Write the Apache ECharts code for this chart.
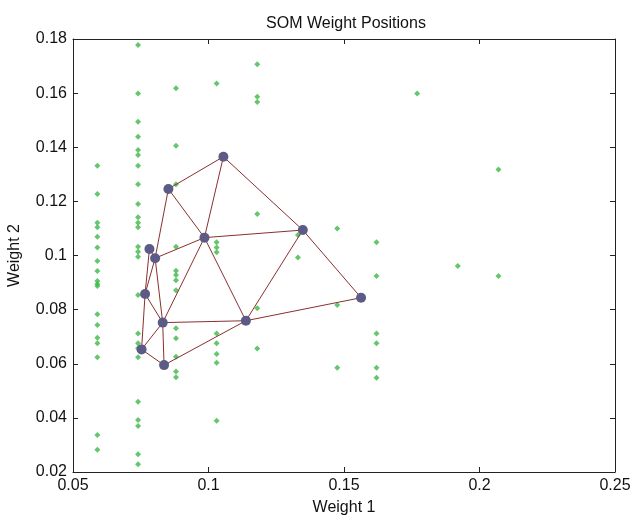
<!DOCTYPE html>
<html>
<head>
<meta charset="utf-8">
<script src="https://cdn.jsdelivr.net/npm/echarts@6/dist/echarts.min.js"></script>
<style>
  html, body { margin: 0; padding: 0; background: #fff; }
  #chart { width: 632px; height: 518px; }
</style>
</head>
<body>
<div id="chart"></div>
<script>
// input data, grouped by column of Weight 1
const colX = [0.059, 0.074, 0.088, 0.103, 0.118, 0.133, 0.1475, 0.162, 0.177, 0.192, 0.207];
const colY = [
  [0.1332, 0.1227, 0.1121, 0.1104, 0.1069, 0.1030, 0.0980, 0.0943, 0.0906, 0.0895, 0.0887, 0.0783, 0.0743, 0.0696, 0.0676, 0.0624, 0.0337, 0.0282],
  [0.1778, 0.1599, 0.1494, 0.1439, 0.1390, 0.1371, 0.1332, 0.1263, 0.1190, 0.1141, 0.1121, 0.1104, 0.1032, 0.1014, 0.0995, 0.0854, 0.0712, 0.0676, 0.0657, 0.0624, 0.0460, 0.0392, 0.0370, 0.0266, 0.0229],
  [0.1618, 0.1406, 0.1263, 0.1032, 0.0944, 0.0928, 0.0909, 0.0872, 0.0731, 0.0694, 0.0626, 0.0571, 0.0550],
  [0.1636, 0.1049, 0.1030, 0.1012, 0.0712, 0.0676, 0.0636, 0.0604, 0.0389],
  [0.1707, 0.1587, 0.1567, 0.1153, 0.0805, 0.0656],
  [0.1076, 0.0993],
  [0.1100, 0.0817, 0.0585],
  [0.1049, 0.0924, 0.0712, 0.0676, 0.0585, 0.0548],
  [0.1599],
  [0.0961],
  [0.1318, 0.0924]
];

// SOM neurons (hextop 3x4), in neuron index order
const gridCols = 3;
const gridRows = 4;
const neuronX = [0.1563, 0.1348, 0.1055, 0.1138, 0.0985, 0.0852, 0.0836, 0.0831, 0.0803, 0.0753, 0.0766, 0.0782];
const neuronY = [0.0844, 0.1094, 0.1365, 0.0759, 0.1066, 0.1246, 0.0595, 0.0752, 0.0990, 0.0653, 0.0858, 0.1024];

const xTicks = [0.05, 0.1, 0.15, 0.2, 0.25];
const yTicks = [0.02, 0.04, 0.06, 0.08, 0.1, 0.12, 0.14, 0.16, 0.18];

const inputPoints = [];
colX.forEach((x, i) => colY[i].forEach(y => inputPoints.push([x, y])));

// neighbours in the hexagonal topology
const hexPos = [];
for (let r = 0; r < gridRows; r++) {
  for (let c = 0; c < gridCols; c++) {
    hexPos.push([c + (r % 2) * 0.5, r * Math.sqrt(3) / 2]);
  }
}
const links = [];
for (let i = 0; i < hexPos.length; i++) {
  for (let j = i + 1; j < hexPos.length; j++) {
    const d = Math.hypot(hexPos[i][0] - hexPos[j][0], hexPos[i][1] - hexPos[j][1]);
    if (d < 1.001) links.push({ source: i, target: j });
  }
}

const font = 'Liberation Sans, Arial, sans-serif';
const axisColor = '#222';

const chart = echarts.init(document.getElementById('chart'));

const option = {
  animation: false,
  backgroundColor: '#fff',
  title: {
    text: 'SOM Weight Positions',
    left: 341,
    top: 11,
    textAlign: 'center',
    textStyle: { color: '#111', fontSize: 16, fontWeight: 'normal', fontFamily: font }
  },
  grid: { left: 73, right: 17, top: 39, bottom: 46, containLabel: false, outerBoundsMode: 'none' },
  xAxis: [{
    type: 'value',
    min: xTicks[0],
    max: xTicks[xTicks.length - 1],
    interval: 0.05,
    name: 'Weight 1',
    nameLocation: 'middle',
    nameGap: 28,
    nameTextStyle: { color: '#111', fontSize: 16, fontFamily: font },
    axisLine: { lineStyle: { color: axisColor, width: 1 } },
    axisTick: { inside: true, length: 5, lineStyle: { color: axisColor } },
    axisLabel: { color: '#111', fontSize: 16, fontFamily: font, margin: 6 },
    splitLine: { show: false }
  }, {
    type: 'value',
    position: 'top',
    min: xTicks[0],
    max: xTicks[xTicks.length - 1],
    interval: 0.05,
    axisLine: { show: true, lineStyle: { color: axisColor, width: 1 } },
    axisTick: { show: true, inside: true, length: 5, lineStyle: { color: axisColor } },
    axisLabel: { show: false },
    splitLine: { show: false }
  }],
  yAxis: [{
    type: 'value',
    min: yTicks[0],
    max: yTicks[yTicks.length - 1],
    interval: 0.02,
    name: 'Weight 2',
    nameLocation: 'middle',
    nameGap: 50,
    nameTextStyle: { color: '#111', fontSize: 16, fontFamily: font },
    axisLine: { show: true, lineStyle: { color: axisColor, width: 1 } },
    axisTick: { show: true, inside: true, length: 5, lineStyle: { color: axisColor } },
    axisLabel: { color: '#111', fontSize: 16, fontFamily: font, margin: 6 },
    splitLine: { show: false }
  }, {
    type: 'value',
    position: 'right',
    min: yTicks[0],
    max: yTicks[yTicks.length - 1],
    interval: 0.02,
    axisLine: { show: true, lineStyle: { color: axisColor, width: 1 } },
    axisTick: { show: true, inside: true, length: 5, lineStyle: { color: axisColor } },
    axisLabel: { show: false },
    splitLine: { show: false }
  }],
  series: [{
    type: 'scatter',
    xAxisIndex: 0,
    yAxisIndex: 0,
    symbol: 'diamond',
    symbolSize: 6,
    itemStyle: { color: '#3fb84a' },
    data: inputPoints,
    z: 2
  }, {
    type: 'graph',
    coordinateSystem: 'cartesian2d',
    xAxisIndex: 0,
    yAxisIndex: 0,
    symbol: 'circle',
    symbolSize: 10,
    itemStyle: { color: '#5b5b85' },
    lineStyle: { color: '#8a2f2f', width: 1, opacity: 1 },
    data: neuronX.map((x, i) => ({ value: [x, neuronY[i]] })),
    links: links,
    z: 3
  }]
};

chart.setOption(option);
</script>
</body>
</html>
